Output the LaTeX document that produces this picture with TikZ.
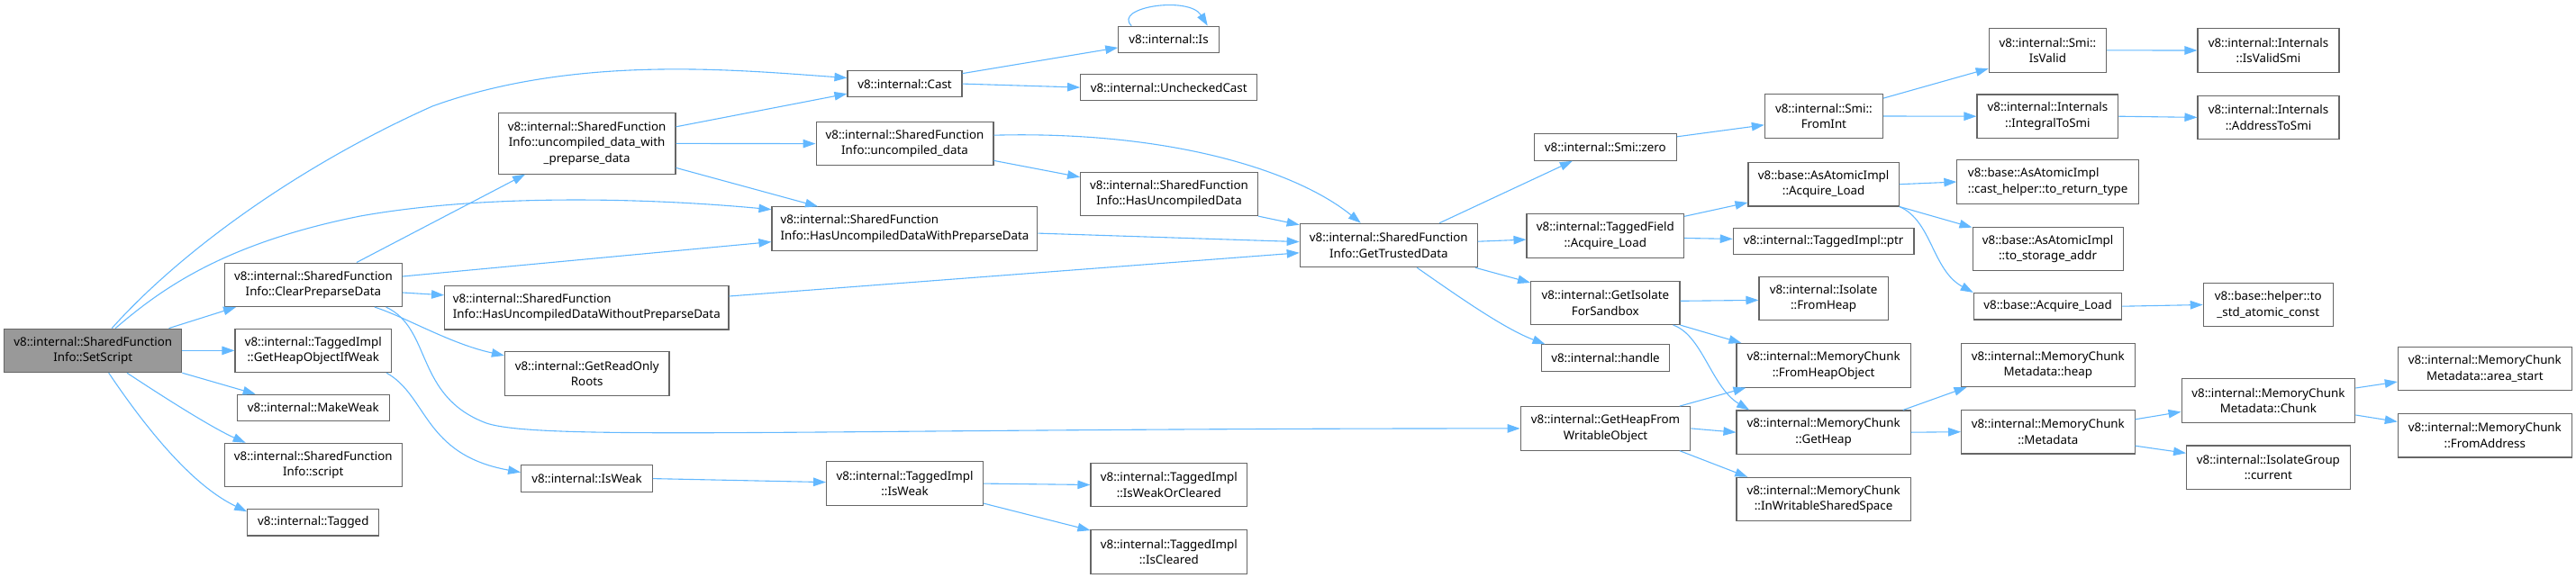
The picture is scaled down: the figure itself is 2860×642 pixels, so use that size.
\documentclass[tikz,border=0pt]{standalone}
\usepackage{fontspec}
\newfontfamily\graphfont{Noto Sans}
\usetikzlibrary{arrows.meta,positioning,calc}
\definecolor{edgeblue}{HTML}{63B8FF}
\definecolor{boxgray}{HTML}{666666}
\definecolor{rootgray}{HTML}{999999}
\tikzset{>={Triangle[length=14pt,width=9.5pt]}}

\begin{document}
\begin{tikzpicture}[
    x=1pt, y=-1pt,
    fn/.style={draw=boxgray, line width=1.1pt, fill=white, rectangle, align=center,
      font=\graphfont\fontsize{13.33}{17.5}\selectfont, inner sep=1pt,
      minimum height=29.5pt, minimum width=#1},
    two/.style={minimum height=48.5pt},
    three/.style={minimum height=67.5pt},
    arr/.style={->, draw=edgeblue, line width=1.1pt},
    node distance=24.8pt
  ]
    \useasboundingbox (0,0) rectangle (2860,642);

    % caller
    \node[fn=197.2pt, two, fill=rootgray] (setscript) at (103.2,389.4) {v8::internal::SharedFunction\\Info::SetScript};

    \node[fn=197.1pt, two] (clearprep) at (347.9,316.3) {v8::internal::SharedFunction\\Info::ClearPreparseData};
    \node[fn=173.6pt, two] (heapweak)  at (347.8,389.4) {v8::internal::TaggedImpl\\::GetHeapObjectIfWeak};
    \node[fn=169pt,        below=23.5pt of heapweak] (makeweak) {v8::internal::MakeWeak};
    \node[fn=197.1pt, two, below=23.5pt of makeweak] (script)   {v8::internal::SharedFunction\\Info::script};
    \node[fn=146.1pt,      below=23.5pt of script]   (tagged)   {v8::internal::Tagged};

    \node[fn=196.8pt, three] (uncompprep) at (651.6,159.4) {v8::internal::SharedFunction\\Info::uncompiled\_data\_with\\\_preparse\_data};
    \node[fn=315.4pt, two, align=left] (hasnoprep) at (651.3,341.7) {v8::internal::SharedFunction\\Info::HasUncompiledDataWithoutPreparseData};
    \node[fn=182.5pt, two] (readonly) at (651.7,414.9) {v8::internal::GetReadOnly\\Roots};
    \node[fn=145.7pt]      (isweak)   at (651.5,531.6) {v8::internal::IsWeak};

    \node[fn=127pt]        (cast)    at (1004.5,93.1)  {v8::internal::Cast};
    \node[fn=196.9pt, two] (uncomp)  at (1004.5,159.6) {v8::internal::SharedFunction\\Info::uncompiled\_data};
    \node[fn=294.8pt, two, align=left] (hasprep) at (1004.4,254.1) {v8::internal::SharedFunction\\Info::HasUncompiledDataWithPreparseData};
    \node[fn=173.9pt, two] (taggedisweak) at (1004.5,537.1) {v8::internal::TaggedImpl\\::IsWeak};

    \node[fn=111.4pt]      (is)        at (1297.5,43.9)  {v8::internal::Is};
    \node[fn=196.1pt]      (unchecked) at (1297.7,97.1)  {v8::internal::UncheckedCast};
    \node[fn=196.8pt, two] (hasuncomp) at (1298,215.3)   {v8::internal::SharedFunction\\Info::HasUncompiledData};
    \node[fn=173.6pt, two] (weakcleared) at (1297.8,538.5) {v8::internal::TaggedImpl\\::IsWeakOrCleared};
    \node[fn=173.6pt, two, below=of weakcleared] (iscleared) {v8::internal::TaggedImpl\\::IsCleared};

    \node[fn=197.2pt, two] (trusted) at (1541.8,272.5) {v8::internal::SharedFunction\\Info::GetTrustedData};

    \node[fn=158.2pt]      (smizero)   at (1782.3,163.5) {v8::internal::Smi::zero};
    \node[fn=174.6pt, two] (fieldload) at (1782.3,261.9) {v8::internal::TaggedField\\::Acquire\_Load};
    \node[fn=165.4pt, two, below=of fieldload] (isolatesb) {v8::internal::GetIsolate\\ForSandbox};
    \node[fn=142.2pt]      (handle)    at (1782.5,397.6) {v8::internal::handle};
    \node[fn=188.6pt, two] (heapfrom)  at (1782.5,475.9) {v8::internal::GetHeapFrom\\WritableObject};

    \node[fn=131.1pt, two] (fromint)    at (2024.9,129)   {v8::internal::Smi::\\FromInt};
    \node[fn=167.2pt, two] (atomicload) at (2024.6,204.7) {v8::base::AsAtomicImpl\\::Acquire\_Load};
    \node[fn=200.7pt,      below=23.2pt of atomicload] (ptr) {v8::internal::TaggedImpl::ptr};
    \node[fn=143.2pt, two, below=23.3pt of ptr] (fromheap) {v8::internal::Isolate\\::FromHeap};
    \node[fn=193.2pt, two, below=of fromheap] (chunkobj)    {v8::internal::MemoryChunk\\::FromHeapObject};
    \node[fn=193.2pt, two, below=of chunkobj] (getheap)     {v8::internal::MemoryChunk\\::GetHeap};
    \node[fn=193.2pt, two, below=of getheap]  (sharedspace) {v8::internal::MemoryChunk\\::InWritableSharedSpace};

    \node[fn=130.4pt, two] (isvalid)  at (2273.4,55.9)  {v8::internal::Smi::\\IsValid};
    \node[fn=156.8pt, two] (integral) at (2273.4,129.2) {v8::internal::Internals\\::IntegralToSmi};
    \node[fn=201.4pt, two, align=left] (rettype) at (2273.6,202) {v8::base::AsAtomicImpl\\::cast\_helper::to\_return\_type};
    \node[fn=167.1pt, two, below=of rettype]  (storeaddr) {v8::base::AsAtomicImpl\\::to\_storage\_addr};
    \node[fn=164.6pt,      below=23.7pt of storeaddr] (baseload) {v8::base::Acquire\_Load};
    \node[fn=192.5pt, two] (metaheap) at (2273.8,405.3) {v8::internal::MemoryChunk\\Metadata::heap};
    \node[fn=192.5pt, two, below=of metaheap] (metadata) {v8::internal::MemoryChunk\\::Metadata};

    \node[fn=157pt, two] (isvalidsmi) at (2518.5,56) {v8::internal::Internals\\::IsValidSmi};
    \node[fn=157pt, two, below=of isvalidsmi] (addrsmi) {v8::internal::Internals\\::AddressToSmi};
    \node[fn=144pt, two] (tostd) at (2518.3,338.5) {v8::base::helper::to\\\_std\_atomic\_const};
    \node[fn=192.7pt, two] (chunk) at (2518.4,444.8) {v8::internal::MemoryChunk\\Metadata::Chunk};
    \node[fn=181.6pt, two, below=of chunk] (groupcur) {v8::internal::IsolateGroup\\::current};

    \node[fn=193pt, two] (areastart) at (2758.8,409.3) {v8::internal::MemoryChunk\\Metadata::area\_start};
    \node[fn=193pt, two, below=of areastart] (fromaddr) {v8::internal::MemoryChunk\\::FromAddress};

    % calls from SetScript
    \draw[arr] ($(setscript.north)+(21,0)$) .. controls (200,280) and (330,185) .. (480,118)
               .. controls (640,60) and (820,78) .. ($(cast.west)+(0,-6.6)$);
    \draw[arr] ($(setscript.north)+(25,0)$) .. controls (180,320) and (250,270) .. (400,240)
               .. controls (540,215) and (720,220) .. ($(hasprep.west)+(0,-21.4)$);
    \draw[arr] ($(setscript.north)+(84.3,0)$) -- ($(clearprep.south west)+(13.2,0)$);
    \draw[arr] (setscript.east) -- (heapweak.west);
    \draw[arr] (setscript.south east) -- ($(makeweak.north west)+(21,0)$);
    \draw[arr] ($(setscript.south)+(37.8,0)$) .. controls (180,440) and (235,475) .. ($(script.north west)+(24,0)$);
    \draw[arr] ($(setscript.south)+(17.5,0)$) .. controls (165,480) and (215,540) .. ($(tagged.west)+(0,-12)$);

    \draw[arr] ($(clearprep.north)+(48,0)$) -- ($(uncompprep.south west)+(30.4,0)$);
    \draw[arr] ($(clearprep.east)+(0,-9.3)$) -- ($(hasprep.west)+(0,14.5)$);
    \draw[arr] ($(clearprep.east)+(0,8.7)$) -- ($(hasnoprep.west)+(0,-13.9)$);
    \draw[arr] ($(clearprep.south)+(68,0)$) .. controls (450,352) and (500,382) .. ($(readonly.west)+(0,-20)$);
    \draw[arr] ($(clearprep.south)+(80.7,0)$) .. controls (480,365) and (460,440) .. (540,470)
               .. controls (600,490) and (900,476) .. (heapfrom.west);
    \draw[arr] ($(heapweak.south east)+(-6,0)$) .. controls (475,440) and (470,505) .. ($(isweak.west)+(0,-7)$);

    \draw[arr] (isweak.east) -- ($(taggedisweak.west)+(0,-1.5)$);
    \draw[arr] (taggedisweak.east) -- (weakcleared.west);
    \draw[arr] ($(taggedisweak.east)+(0,22)$) -- ($(iscleared.north west)+(0,1)$);

    \draw[arr] ($(uncompprep.east)+(0,-18.6)$) -- ($(cast.west)+(0,11)$);
    \draw[arr] (uncompprep.east) -- (uncomp.west);
    \draw[arr] ($(uncompprep.east)+(0,27)$) -- ($(hasprep.north west)+(51.6,0)$);

    \draw[arr] ($(cast.east)+(0,-11.5)$) -- ($(is.west)+(0,9)$);
    \draw[arr] (cast.east) -- (unchecked.west);
    \draw[arr] ($(is.north west)+(15,0)$) .. controls (1235,8) and (1320,-5) .. ($(is.north east)+(-13,0)$);

    % into GetTrustedData
    \draw[arr] ($(uncomp.east)+(0,-9.4)$) .. controls (1300,145) and (1440,190) .. ($(trusted.north)+(-31,0)$);
    \draw[arr] ($(uncomp.east)+(0,18.8)$) -- ($(hasuncomp.west)+(0,-18.6)$);
    \draw[arr] (hasuncomp.south east) -- ($(trusted.north west)+(0,2)$);
    \draw[arr] ($(hasprep.east)+(0,5)$) -- ($(trusted.west)+(0,-3.9)$);
    \draw[arr] ($(hasnoprep.east)+(0,-12.7)$) -- ($(trusted.west)+(0,8.3)$);

    \draw[arr] ($(trusted.north)+(56.4,0)$) -- ($(smizero.south west)+(43.2,0)$);
    \draw[arr] ($(trusted.east)+(0,-4.3)$) -- ($(fieldload.west)+(0,4.2)$);
    \draw[arr] ($(trusted.south east)+(-3,0)$) -- ($(isolatesb.north west)+(0,2.5)$);
    \draw[arr] ($(trusted.south)+(31.4,0)$) .. controls (1620,330) and (1670,365) .. ($(handle.north west)+(4.6,0)$);

    \draw[arr] ($(smizero.east)+(0,-11.7)$) -- ($(fromint.west)+(0,9.8)$);
    \draw[arr] ($(fromint.north east)+(0,4.9)$) -- ($(isvalid.south west)+(0,-4.5)$);
    \draw[arr] (fromint.east) -- (integral.west);
    \draw[arr] (isvalid.east) -- (isvalidsmi.west);
    \draw[arr] (integral.east) -- (addrsmi.west);

    \draw[arr] ($(fieldload.north east)+(0,3.2)$) -- ($(atomicload.south west)+(0,-4.5)$);
    \draw[arr] ($(fieldload.east)+(0,2.6)$) -- ($(ptr.west)+(0,-2.6)$);
    \draw[arr] (atomicload.east) -- (rettype.west);
    \draw[arr] (atomicload.south east) -- ($(storeaddr.north west)+(0,1)$);
    \draw[arr] (atomicload.south east) .. controls (2145,245) and (2145,300) .. (baseload.north west);
    \draw[arr] (baseload.east) -- (tostd.west);

    \draw[arr] ($(isolatesb.east)+(0,-2)$) -- ($(fromheap.west)+(0,2)$);
    \draw[arr] (isolatesb.south east) -- ($(chunkobj.north west)+(6,0)$);
    \draw[arr] ($(isolatesb.south east)+(-8,0)$) .. controls (1890,372) and (1900,430) .. ($(getheap.north west)+(14.7,0)$);

    \draw[arr] ($(heapfrom.north east)+(-12.5,0)$) -- ($(chunkobj.south west)+(11,0)$);
    \draw[arr] (heapfrom.east) -- (getheap.west);
    \draw[arr] ($(heapfrom.south east)+(-12.5,0)$) -- ($(sharedspace.north west)+(12.8,0)$);

    \draw[arr] ($(getheap.north east)+(-8.9,0)$) -- ($(metaheap.south west)+(6.5,0)$);
    \draw[arr] (getheap.east) -- (metadata.west);
    \draw[arr] ($(metadata.east)+(0,-13.9)$) -- ($(chunk.west)+(0,12.6)$);
    \draw[arr] ($(metadata.east)+(0,15.5)$) -- ($(groupcur.west)+(0,-15.9)$);
    \draw[arr] ($(chunk.east)+(0,-13.8)$) -- ($(areastart.west)+(0,14.7)$);
    \draw[arr] ($(chunk.east)+(0,16.2)$) -- ($(fromaddr.west)+(0,-15.3)$);
  \end{tikzpicture}
\end{document}
